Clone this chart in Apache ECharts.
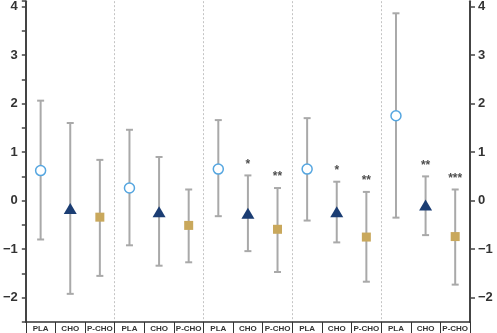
<!DOCTYPE html>
<html>
<head>
<meta charset="utf-8">
<script src="https://cdn.jsdelivr.net/npm/echarts@6/dist/echarts.min.js"></script>
<style>html,body{margin:0;padding:0;background:#fff}#c{width:497px;height:333px}</style>
</head>
<body>
<div id="c"></div>
<script>
var categories = ['PLA','CHO','P-CHO','PLA','CHO','P-CHO','PLA','CHO','P-CHO','PLA','CHO','P-CHO','PLA','CHO','P-CHO'];
var means = [0.62,-0.16,-0.34, 0.26,-0.23,-0.51, 0.65,-0.26,-0.59, 0.65,-0.23,-0.75, 1.75,-0.09,-0.74];
var upper = [2.06,1.60,0.84, 1.46,0.90,0.23, 1.66,0.52,0.26, 1.70,0.39,0.18, 3.86,0.50,0.23];
var lower = [-0.80,-1.92,-1.55, -0.92,-1.34,-1.27, -0.32,-1.04,-1.47, -0.41,-0.86,-1.67, -0.35,-0.71,-1.73];
var stars = ['','','', '','','', '','*','**', '','*','**', '','**','***'];
var yTicks = [-2,-1,0,1,2,3,4];

function fmt(v){ return v < 0 ? '\u2212' + Math.abs(v) : String(v); }

var errData = categories.map(function(c,i){ return [i, lower[i], upper[i]]; });
function pick(name){ return categories.map(function(c,i){ return c === name ? [i, means[i]] : null; }).filter(Boolean); }
var starData = categories.map(function(c,i){ return stars[i] ? [i, upper[i], stars[i]] : null; }).filter(Boolean);

var chart = echarts.init(document.getElementById('c'));
chart.setOption({
  animation: false,
  grid: {left: 23, right: 27, top: 0, bottom: 11, containLabel: false},
  xAxis: {
    type: 'category', data: categories, boundaryGap: true,
    axisLine: {onZero: false, lineStyle: {color: '#333', width: 1.5}},
    axisTick: {show: true, interval: 0, length: 12, lineStyle: {color: '#333', width: 1}},
    axisLabel: {interval: 0, margin: 3, fontSize: 8, fontWeight: 'bold', color: '#333', fontFamily: 'Liberation Sans'},
    splitLine: {show: true, interval: function(i){ return i > 0 && i % 3 === 0; }, lineStyle: {color: '#c4c4c4', type: [2,2], width: 1}}
  },
  yAxis: [{
    type: 'value', position: 'left', min: -2.5, max: 4.11, interval: 0.5,
    axisLine: {show: true, lineStyle: {color: '#444', width: 2}},
    axisTick: {show: true, length: 4, lineStyle: {color: '#444', width: 1.5}},
    axisLabel: {customValues: yTicks, formatter: fmt, margin: 8, fontSize: 13, color: '#333', fontWeight: 'bold', fontFamily: 'Liberation Sans'},
    splitLine: {show: false}
  },{
    type: 'value', position: 'right', min: -2.5, max: 4.11,
    axisLine: {show: true, lineStyle: {color: '#444', width: 2}},
    axisTick: {show: true, customValues: yTicks, length: 5, lineStyle: {color: '#444', width: 1.5}},
    axisLabel: {customValues: yTicks, formatter: fmt, margin: 8, fontSize: 13, color: '#333', fontWeight: 'bold', fontFamily: 'Liberation Sans'},
    splitLine: {show: false}
  }],
  series: [{
    type: 'custom', data: errData, z: 1,
    renderItem: function(params, api){
      var x = api.value(0);
      var lo = api.coord([x, api.value(1)]);
      var hi = api.coord([x, api.value(2)]);
      var w = 3.5;
      var st = {stroke: '#a9a9a9', lineWidth: 2};
      return {type: 'group', children: [
        {type: 'line', shape: {x1: lo[0], y1: lo[1], x2: hi[0], y2: hi[1]}, style: st},
        {type: 'line', shape: {x1: hi[0]-w, y1: hi[1], x2: hi[0]+w, y2: hi[1]}, style: st},
        {type: 'line', shape: {x1: lo[0]-w, y1: lo[1], x2: lo[0]+w, y2: lo[1]}, style: st}
      ]};
    }
  },{
    type: 'scatter', data: pick('PLA'), symbol: 'circle', symbolSize: 10, z: 3,
    itemStyle: {color: '#fff', borderColor: '#55a6e0', borderWidth: 1.5, opacity: 1}
  },{
    type: 'scatter', data: pick('CHO'), symbol: 'triangle', symbolSize: [13, 11], z: 3,
    itemStyle: {color: '#1b3d73', opacity: 1}
  },{
    type: 'scatter', data: pick('P-CHO'), symbol: 'rect', symbolSize: 9, z: 3,
    itemStyle: {color: '#c9a85c', opacity: 1}
  },{
    type: 'scatter', data: starData, symbolSize: 0, z: 4,
    label: {show: true, position: 'top', distance: 5, formatter: function(p){ return p.data[2]; }, fontSize: 12, fontWeight: 'bold', color: '#222', fontFamily: 'Liberation Sans'}
  }]
});
</script>
</body>
</html>
